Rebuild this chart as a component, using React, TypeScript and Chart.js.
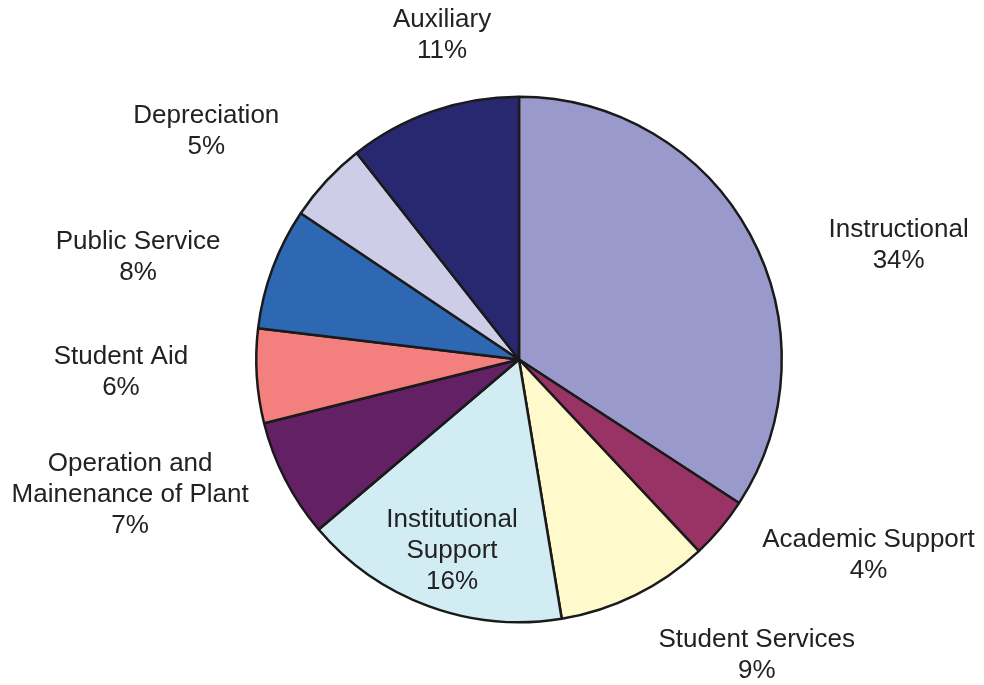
import React, { useEffect, useRef } from "react";
import { Chart, registerables } from "chart.js";

Chart.register(...registerables);

const categories = [
  "Instructional",
  "Academic Support",
  "Student Services",
  "Institutional Support",
  "Operation and Mainenance of Plant",
  "Student Aid",
  "Public Service",
  "Depreciation",
  "Auxiliary",
];
const values = [34.2, 3.8, 9.4, 16.4, 7.3, 5.8, 7.5, 5.0, 10.6];
const percentLabels = ["34%", "4%", "9%", "16%", "7%", "6%", "8%", "5%", "11%"];
const labelLines = [
  ["Instructional"],
  ["Academic Support"],
  ["Student Services"],
  ["Institutional", "Support"],
  ["Operation and", "Mainenance of Plant"],
  ["Student Aid"],
  ["Public Service"],
  ["Depreciation"],
  ["Auxiliary"],
];
const colors = [
  "#9999CC",
  "#993366",
  "#FFFACC",
  "#D2ECF4",
  "#642064",
  "#F47F7F",
  "#2E68B2",
  "#CDCDE8",
  "#282870",
];
// label anchor offsets relative to pie centre, in units of the radius
const labelOffsets: [number, number][] = [
  [1.445, -0.435],
  [1.33, 0.745],
  [0.905, 1.125],
  [-0.255, 0.73],
  [-1.48, 0.515],
  [-1.515, 0.05],
  [-1.45, -0.39],
  [-1.19, -0.87],
  [-0.293, -1.235],
];

const labelPlugin = {
  id: "outerLabels",
  afterDraw(chart: any) {
    const ctx = chart.ctx;
    const meta = chart.getDatasetMeta(0);
    ctx.save();
    ctx.font = '26px "Liberation Sans", Arial, sans-serif';
    ctx.fillStyle = "#222222";
    ctx.textAlign = "center";
    ctx.textBaseline = "middle";
    const lh = 31;
    meta.data.forEach((arc: any, i: number) => {
      const r = arc.outerRadius;
      const cx = arc.x + labelOffsets[i][0] * r;
      const cy = arc.y + labelOffsets[i][1] * r;
      const lines = [...labelLines[i], percentLabels[i]];
      const top = cy - ((lines.length - 1) * lh) / 2;
      lines.forEach((t, j) => ctx.fillText(t, cx, top + j * lh));
    });
    ctx.restore();
  },
};

export default function App() {
  const ref = useRef<HTMLCanvasElement | null>(null);
  useEffect(() => {
    document.body.style.margin = "0";
    const chart = new Chart(ref.current!, {
      type: "pie",
      data: {
        labels: categories,
        datasets: [
          {
            data: values,
            backgroundColor: colors,
            borderColor: "#1a1a1a",
            borderWidth: 2.5,
          },
        ],
      },
      options: {
        responsive: false,
        animation: false,
        layout: { padding: { left: 255, right: 201, top: 95, bottom: 61 } },
        plugins: { legend: { display: false }, tooltip: { enabled: false } },
      },
      plugins: [labelPlugin],
    });
    return () => chart.destroy();
  }, []);
  return (
    <div style={{ position: "absolute", left: 0, top: 0, width: 984, height: 685, background: "#fff" }}>
      <canvas ref={ref} width={984} height={685} />
    </div>
  );
}
